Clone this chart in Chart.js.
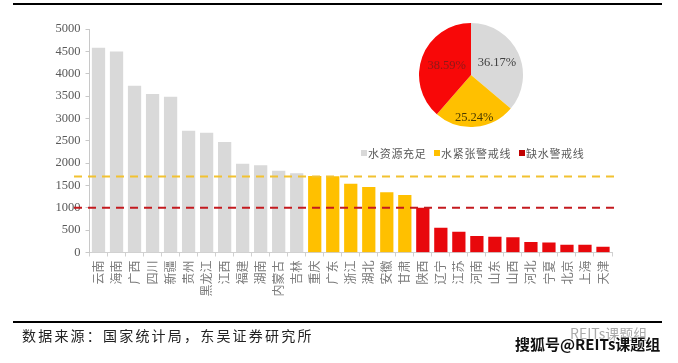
<!DOCTYPE html>
<html>
<head>
<meta charset="utf-8">
<script src="https://cdn.jsdelivr.net/npm/chart.js@4"></script>
<style>
  html, body { margin: 0; padding: 0; background: #fff; }
  #page { position: relative; width: 678px; height: 363px; overflow: hidden; font-family: "Noto Sans CJK SC", sans-serif; }
  #barChart { position: absolute; left: 0; top: 0; }
  #pieChart { position: absolute; left: 411px; top: 15px; }
  .rule { position: absolute; left: 13px; height: 2px; background: #000; width: 649px; }
  .legend { position: absolute; top: 145px; font-size: 11px; line-height: 16px; letter-spacing: 0.7px; color: #595959; white-space: nowrap; }
  .legend i { position: absolute; left: -7px; top: 5px; width: 6px; height: 6px; }
  #source { position: absolute; left: 22px; top: 325px; font-size: 14px; line-height: 20px; letter-spacing: 2.2px; color: #222; white-space: nowrap; }
  #mark1 { position: absolute; left: 570px; top: 325px; font-size: 14px; line-height: 16px; color: #aaa; white-space: nowrap; }
  #mark2 { position: absolute; left: 515px; top: 335px; font-size: 15px; line-height: 18px; font-weight: 700; color: #111; white-space: nowrap; text-shadow: 0 0 2px #fff; }
</style>
</head>
<body>
<div id="page">
  <canvas id="barChart" width="678" height="363"></canvas>
  <canvas id="pieChart" width="120" height="120"></canvas>
  <div class="rule" style="top:3px"></div>
  <div class="rule" style="top:321px"></div>
  <div class="legend" style="left:368px"><i style="background:#d9d9d9"></i>水资源充足</div>
  <div class="legend" style="left:441px"><i style="background:#ffc000"></i>水紧张警戒线</div>
  <div class="legend" style="left:526px"><i style="background:#c00000"></i>缺水警戒线</div>
  <div id="source">数据来源：国家统计局，东吴证券研究所</div>
  <div id="mark1">REITs课题组</div>
  <div id="mark2">搜狐号@REITs课题组</div>
</div>
<script>
const provinces = ['云南','海南','广西','四川','新疆','贵州','黑龙江','江西','福建','湖南','内蒙古','吉林','重庆','广东','浙江','湖北','安徽','甘肃','陕西','辽宁','江苏','河南','山东','山西','河北','宁夏','北京','上海','天津'];
const waterPerCapita = [4575,4492,3725,3540,3478,2718,2673,2465,1980,1942,1823,1763,1705,1700,1532,1458,1338,1279,995,548,459,362,347,331,228,219,168,168,123];
const tenseLine = 1700;
const shortLine = 1000;
const lineExtent = [-1.36, 28.83];
const yTicks = [0,500,1000,1500,2000,2500,3000,3500,4000,4500,5000];

const pieLabels = ['水资源充足','水紧张警戒线','缺水警戒线'];
const pieShares = [36.17,25.24,38.59];

const GREY = '#d9d9d9', YELLOW = '#ffc000', RED = '#e8080c';
const serif = '"Liberation Serif", serif';
const cjk = '"Noto Sans CJK SC", sans-serif';

function barColor(v) {
  if (v > tenseLine + 10) return GREY;
  if (v >= shortLine) return YELLOW;
  return RED;
}

function thresholdLine(value, color) {
  return {
    type: 'line',
    xAxisID: 'x2',
    data: lineExtent.map(x => ({ x: x, y: value })),
    borderColor: color,
    borderWidth: 2,
    borderDash: [8, 6],
    pointRadius: 0,
    clip: false,
    order: 0
  };
}

new Chart(document.getElementById('barChart'), {
  type: 'bar',
  data: {
    labels: provinces,
    datasets: [
      thresholdLine(tenseLine, '#f2c230'),
      thresholdLine(shortLine, '#c41a1f'),
      {
        type: 'bar',
        data: waterPerCapita,
        backgroundColor: waterPerCapita.map(barColor),
        grouped: false,
        barThickness: 12.6,
        order: 1
      }
    ]
  },
  options: {
    responsive: false,
    animation: false,
    layout: { padding: { top: 29, right: 66, left: 0, bottom: 0 } },
    plugins: { legend: { display: false }, tooltip: { enabled: false } },
    scales: {
      x: {
        offset: true,
        border: { color: '#d0d0d0' },
        grid: { display: true, drawOnChartArea: false, tickLength: 4, color: '#d0d0d0' },
        ticks: { autoSkip: false, minRotation: 90, maxRotation: 90, padding: 4, color: '#7a7a7a', font: { family: cjk, size: 12 } },
        afterFit: s => { s.height = 110.5; }
      },
      // hidden axis so the dashed lines can run past the first and last bar
      x2: { type: 'linear', display: false, offset: false, min: -0.5, max: 28.5 },
      y: {
        min: 0,
        max: 5000,
        border: { color: '#c8c8c8' },
        grid: { display: true, drawOnChartArea: false, tickLength: 4, color: '#c8c8c8' },
        afterBuildTicks: s => { s.ticks = yTicks.map(v => ({ value: v })); },
        ticks: { padding: 5, color: '#595959', font: { family: serif, size: 12.5 }, callback: v => String(v) },
        afterFit: s => { s.width = 89.5; }
      }
    }
  }
});

// percent labels sit at different radii, like the original
const labelRadius = [0.55, 0.82, 0.5];
const labelColors = ['#404040', '#4a3a00', '#8c1a1a'];
const pieText = {
  id: 'pieText',
  afterDatasetsDraw(chart) {
    const ctx = chart.ctx;
    ctx.save();
    ctx.font = '12.5px ' + serif;
    ctx.textAlign = 'center';
    ctx.textBaseline = 'middle';
    chart.getDatasetMeta(0).data.forEach((arc, i) => {
      const mid = (arc.startAngle + arc.endAngle) / 2;
      const r = arc.outerRadius * labelRadius[i];
      ctx.fillStyle = labelColors[i];
      ctx.fillText(pieShares[i].toFixed(2) + '%', arc.x + Math.cos(mid) * r, arc.y + Math.sin(mid) * r);
    });
    ctx.restore();
  }
};

new Chart(document.getElementById('pieChart'), {
  type: 'pie',
  data: {
    labels: pieLabels,
    datasets: [{ data: pieShares, backgroundColor: [GREY, YELLOW, '#f80808'], borderWidth: 0 }]
  },
  options: {
    responsive: false,
    animation: false,
    layout: { padding: 8 },
    plugins: { legend: { display: false }, tooltip: { enabled: false } }
  },
  plugins: [pieText]
});
</script>
</body>
</html>
